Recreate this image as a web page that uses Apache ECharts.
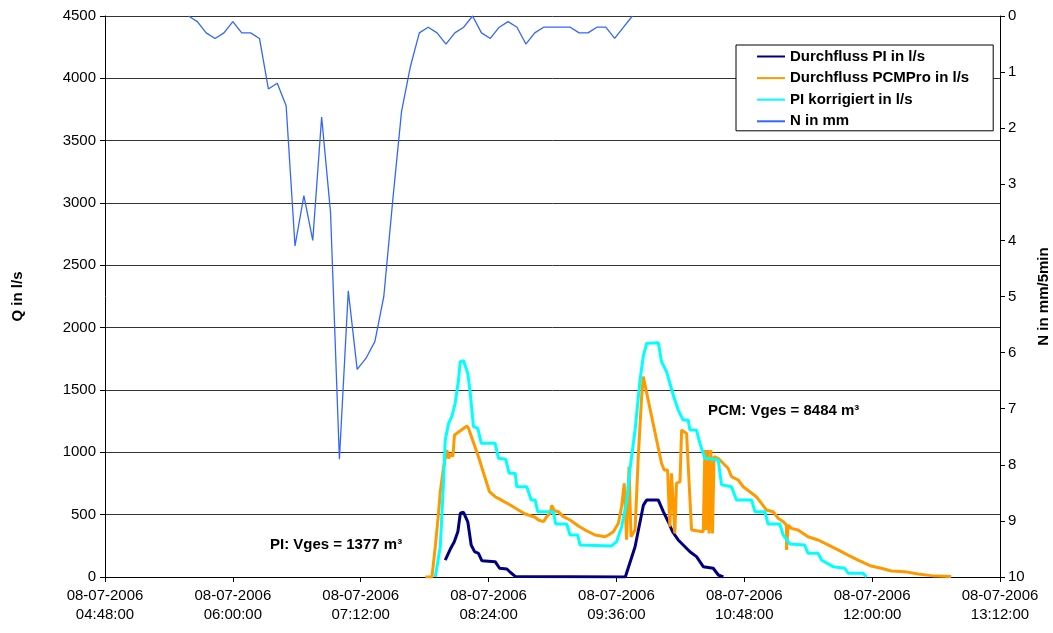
<!DOCTYPE html>
<html>
<head>
<meta charset="utf-8">
<script src="https://cdn.jsdelivr.net/npm/echarts@6/dist/echarts.min.js"></script>
<style>
  html, body { margin: 0; padding: 0; background: #fff; overflow: hidden; }
  #chart { width: 1053px; height: 633px; }
</style>
</head>
<body>
<div id="chart"></div>
<script>
// x values are minutes since midnight (08-07-2006)
const xTicks = [288, 360, 432, 504, 576, 648, 720, 792];

// Durchfluss PI in l/s
const piFlow = [
  [479.6, 136], [482.4, 222], [484.7, 283], [486.7, 363], [488.1, 511], [489.9, 519],
  [492.3, 443], [494.2, 257], [496.1, 203], [498.3, 190], [500.2, 131], [507.7, 123],
  [510.2, 70], [514.3, 64], [516.2, 38], [519, 5], [520, 0], [581, 0], [582, 16],
  [586.5, 243], [591.2, 577], [593, 617], [599.6, 617], [602.4, 524], [605.2, 443],
  [607.6, 363], [610.8, 297], [614.6, 243], [617.4, 203], [621.1, 163], [624.9, 83],
  [630.5, 70], [633.4, 16], [636.2, 0]
];

// Durchfluss PCMPro in l/s
const pcmFlow = [
  [468.4, 0], [472.1, 0], [474.0, 243], [475.8, 511], [476.8, 684], [478.7, 885],
  [480.5, 1019], [481.5, 952], [483.0, 992], [483.9, 965], [484.8, 1139], [491.8, 1211],
  [492.7, 1193], [498.3, 965], [504.5, 684], [507.7, 644], [510.5, 623], [516.2, 577],
  [520.8, 537], [524.6, 505], [530.2, 479], [532.1, 457], [534.9, 444], [536.8, 484],
  [538.7, 511], [539.6, 575], [541.1, 532], [543.3, 524], [546.1, 484], [549.9, 457],
  [554.6, 409], [558.4, 377], [564.0, 337], [569.6, 323], [571.5, 337], [574.3, 363],
  [577.1, 431], [578.9, 564], [580.4, 751], [581.7, 300], [583.1, 885], [584.2, 323],
  [586.5, 377], [588.3, 965], [590.2, 1446], [591.1, 1607], [601.4, 912], [602.9, 858],
  [604.8, 858], [606.1, 403], [607.0, 832], [608.9, 350], [609.8, 751], [611.8, 764],
  [612.7, 1179], [615.5, 1152], [618.3, 377], [624.9, 363], [625.8, 1019], [626.4, 377],
  [627.3, 1019], [628.2, 350], [629.2, 1019], [630.1, 350], [631.0, 965], [633.3, 952],
  [636.1, 912], [638.9, 872], [640.8, 805], [644.6, 778], [647.4, 724], [651.1, 684],
  [654.8, 644], [657.7, 591], [660.5, 537], [664.2, 524], [667.1, 471], [669.9, 444],
  [671.7, 417], [671.8, 217], [672.7, 417], [674.5, 390], [678.3, 377], [683.9, 323],
  [689.6, 297], [695.2, 257], [700.8, 217], [706.4, 176], [712.1, 136], [719.5, 88],
  [725.1, 70], [730.8, 48], [738.3, 43], [745.8, 24], [753.3, 11], [764.5, 5]
];

// PI korrigiert in l/s
const piCorr = [
  [474.0, 0], [476.8, 243], [478.7, 778], [479.6, 1099], [481.5, 1233], [483.3, 1286],
  [485.2, 1393], [487.1, 1580], [488.0, 1727], [489.9, 1735], [492.3, 1634], [493.7, 1473],
  [495.5, 1206], [497.9, 1193], [499.9, 1072], [507.7, 1072], [509.6, 952], [513.7, 944],
  [515.6, 832], [519.0, 832], [519.9, 724], [525.5, 724], [528.0, 618], [530.2, 618],
  [531.7, 524], [540.5, 524], [541.8, 425], [548.0, 425], [549.9, 337], [554.2, 337],
  [555.5, 257], [573.3, 249], [576.1, 283], [578.9, 400], [581.7, 600], [583.6, 858],
  [586.5, 1179], [589.3, 1580], [591.1, 1767], [593.0, 1874], [599.6, 1879], [601.4, 1727],
  [604.2, 1647], [606.1, 1554], [608.0, 1460], [610.8, 1339], [613.6, 1259], [616.4, 1259],
  [617.4, 1179], [621.1, 1179], [623.0, 1072], [625.8, 952], [633.3, 938], [635.2, 740],
  [640.8, 724], [643.6, 618], [652.1, 618], [654.0, 524], [659.6, 524], [661.4, 425],
  [668.0, 425], [669.9, 337], [673.6, 265], [682.0, 257], [683.9, 190], [689.6, 190],
  [691.5, 136], [698.0, 83], [704.6, 70], [706.5, 30], [714.9, 30], [716.8, 0]
];

// N in mm/5min, every 5 minutes from 05:35
const rainStart = 335;
const rain = [
  0, 0.1, 0.3, 0.4, 0.3, 0.1, 0.3, 0.3, 0.4, 1.3, 1.2, 1.6, 4.1, 3.2, 4.0, 1.8, 3.5,
  7.9, 4.9, 6.3, 6.1, 5.8, 5.0, 3.3, 1.7, 0.9, 0.3, 0.2, 0.3, 0.5, 0.3, 0.2, 0, 0.3,
  0.4, 0.2, 0.1, 0.2, 0.5, 0.3, 0.2, 0.2, 0.2, 0.2, 0.3, 0.3, 0.2, 0.2, 0.4, 0.2, 0
];

const pad = n => (n < 10 ? '0' : '') + n;
const timeLabel = v => '08-07-2006\n' + pad(Math.floor(v / 60)) + ':' + pad(v % 60) + ':00';

const chart = echarts.init(document.getElementById('chart'));
const font = 'Liberation Sans, Arial, sans-serif';

chart.setOption({
  animation: false,
  textStyle: { fontFamily: font, color: '#000' },
  grid: { left: 105, right: 53, top: 16, bottom: 56, containLabel: false, outerBoundsMode: 'none' },
  legend: {
    orient: 'vertical',
    left: 736,
    top: 45,
    padding: [4, 24, 2, 20],
    itemWidth: 28,
    itemHeight: 14,
    itemGap: 6.6,
    borderColor: '#000',
    borderWidth: 1,
    backgroundColor: '#fff',
    itemStyle: { opacity: 0 },
    textStyle: { fontFamily: font, fontWeight: 'bold', fontSize: 15, color: '#000' },
    data: ['Durchfluss PI in l/s', 'Durchfluss PCMPro in l/s', 'PI korrigiert in l/s', 'N in mm']
  },
  xAxis: {
    type: 'value',
    min: xTicks[0],
    max: xTicks[xTicks.length - 1],
    interval: 72,
    axisLine: { lineStyle: { color: '#000' } },
    axisTick: { length: 5, lineStyle: { color: '#000' } },
    splitLine: { show: false },
    axisLabel: {
      color: '#000', fontSize: 15, lineHeight: 19, margin: 9,
      showMinLabel: true, showMaxLabel: true,
      formatter: timeLabel
    }
  },
  yAxis: [
    {
      type: 'value', min: 0, max: 4500, interval: 500,
      name: 'Q in l/s', nameLocation: 'middle', nameGap: 80, nameRotate: 90,
      nameTextStyle: { fontWeight: 'bold', fontSize: 15, color: '#000' },
      axisLine: { show: true, lineStyle: { color: '#000' } },
      axisTick: { show: true, length: 5, lineStyle: { color: '#000' } },
      axisLabel: { color: '#000', fontSize: 15, margin: 9, formatter: v => String(v) },
      splitLine: { lineStyle: { color: '#333', width: 1 } }
    },
    {
      type: 'value', min: 0, max: 10, interval: 1, inverse: true, position: 'right',
      name: 'N in mm/5min', nameLocation: 'middle', nameGap: 36, nameRotate: 90,
      nameTextStyle: { fontWeight: 'bold', fontSize: 15, color: '#000' },
      axisLine: { show: true, lineStyle: { color: '#000' } },
      axisTick: { show: true, length: 5, lineStyle: { color: '#000' } },
      axisLabel: { color: '#000', fontSize: 15, margin: 8 },
      splitLine: { show: false }
    }
  ],
  series: [
    {
      name: 'Durchfluss PI in l/s', type: 'line', data: piFlow,
      symbol: 'none', lineStyle: { color: '#000080', width: 3 }, itemStyle: { color: '#000080' }
    },
    {
      name: 'Durchfluss PCMPro in l/s', type: 'line', data: pcmFlow,
      symbol: 'none', lineStyle: { color: '#FF9900', width: 3 }, itemStyle: { color: '#FF9900' }
    },
    {
      name: 'PI korrigiert in l/s', type: 'line', data: piCorr,
      symbol: 'none', lineStyle: { color: '#00FFFF', width: 3 }, itemStyle: { color: '#00FFFF' }
    },
    {
      name: 'N in mm', type: 'line', yAxisIndex: 1,
      data: rain.map((v, i) => [rainStart + 5 * i, v]),
      symbol: 'none', lineStyle: { color: '#3366FF', width: 1.3 }, itemStyle: { color: '#3366FF' }
    }
  ],
  graphic: [
    {
      type: 'text', left: 708, top: 403,
      style: { text: 'PCM: Vges = 8484 m³', font: 'bold 15px ' + font, fill: '#000' }
    },
    {
      type: 'text', left: 270, top: 537,
      style: { text: 'PI: Vges = 1377 m³', font: 'bold 15px ' + font, fill: '#000' }
    }
  ]
});
</script>
</body>
</html>
